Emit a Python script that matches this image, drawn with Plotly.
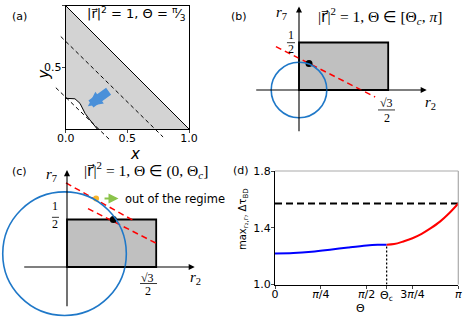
import numpy as np
import plotly.graph_objects as go

# ---------------- data ----------------
# panel (a)
a_curve_x = [0.0, 0.04, 0.075, 0.116, 0.157, 0.197, 0.238, 0.256]
a_curve_y = [0.249, 0.249, 0.245, 0.208, 0.127, 0.073, 0.019, 0.0]
a_diag_x = [0.0, 1.0]
a_diag_y = [1.0, 0.0]
a_dash_hi_x = [-0.04, 0.79]
a_dash_hi_y = [0.75, -0.065]
a_dash_lo_x = [-0.08, 0.36]
a_dash_lo_y = [0.335, -0.09]
a_arrow_tail = [0.36, 0.315]
a_arrow_tip = [0.18, 0.185]

# panels (b), (c): rectangle r2 in [0, sqrt3/2], r7 in [0, 1/2]
rect_w = np.sqrt(3) / 2
rect_h = 0.5
b_circle_center = [0.0, 0.0]
b_circle_r = 0.27
b_red_x = [-0.224, 0.739]
b_red_y = [0.457, -0.074]
b_dot = [0.097, 0.28]

c_circle_center = [-0.024, 0.14]
c_circle_r = 0.6
c_red1_x = [-0.01, 0.66]
c_red1_y = [0.885, 0.48]
c_red2_x = [0.204, 0.866]
c_red2_y = [0.615, 0.25]
c_dot = [0.45, 0.5]
c_orange = [0.282, 0.72]
c_green_from = [0.35, 0.72]
c_green_to = [0.50, 0.72]

# panel (d)
theta_c = 0.609 * np.pi
d_blue_x = [0.0, 0.1 * np.pi, 0.2 * np.pi, 0.3 * np.pi, 0.4 * np.pi, 0.5 * np.pi, 0.56 * np.pi, theta_c]
d_blue_y = [1.219, 1.222, 1.231, 1.245, 1.261, 1.275, 1.280, 1.281]
d_red_x = [theta_c, 0.65 * np.pi, 0.7 * np.pi, 0.75 * np.pi, 0.8 * np.pi, 0.85 * np.pi, 0.9 * np.pi, 0.95 * np.pi, np.pi]
d_red_y = [1.281, 1.285, 1.303, 1.326, 1.357, 1.397, 1.443, 1.502, 1.571]
d_limit = np.pi / 2
d_xticks = [0, np.pi / 4, np.pi / 2, theta_c, 3 * np.pi / 4, np.pi]
d_xticktext = ["0", "<i>π</i>/4", "<i>π</i>/2", " ", "3<i>π</i>/4", "<i>π</i>"]
d_yticks = [1.0, 1.4, 1.8]

# ---------------- layout helpers ----------------
W, H = 463, 317
SX, SY = 103.0, 95.0  # schematic scale px/unit


def xd(p0, p1):
    return [p0 / W, p1 / W]


def yd(top, bottom):
    return [1 - bottom / H, 1 - top / H]


SANS = "DejaVu Sans"
SERIF = "Liberation Serif"
TITLE_FONT = "Liberation Serif, DejaVu Sans"

fig = go.Figure()

# ---- panel (a) ----
poly_x = a_curve_x + [1.0, 0.0, a_curve_x[0]]
poly_y = a_curve_y + [0.0, 1.0, a_curve_y[0]]
fig.add_trace(go.Scatter(x=poly_x, y=poly_y, fill="toself", fillcolor="#d3d3d3",
                         line=dict(width=0), mode="lines", xaxis="x", yaxis="y", hoverinfo="skip"))
fig.add_trace(go.Scatter(x=a_curve_x, y=a_curve_y, mode="lines", line=dict(color="black", width=1),
                         xaxis="x", yaxis="y"))
fig.add_trace(go.Scatter(x=a_diag_x, y=a_diag_y, mode="lines", line=dict(color="black", width=1),
                         xaxis="x", yaxis="y"))

shapes = []
annots = []
for xs, ys in [(a_dash_hi_x, a_dash_hi_y), (a_dash_lo_x, a_dash_lo_y)]:
    shapes.append(dict(type="line", xref="x domain", yref="y domain", x0=xs[0], y0=ys[0], x1=xs[1], y1=ys[1],
                       line=dict(color="black", width=1, dash="4px,3px")))

annots.append(dict(x=a_arrow_tip[0], y=a_arrow_tip[1], ax=a_arrow_tail[0], ay=a_arrow_tail[1],
                   xref="x", yref="y", axref="x", ayref="y", showarrow=True, arrowhead=2,
                   arrowsize=0.34, arrowwidth=8.5, arrowcolor="#4a90d9", text=""))
annots.append(dict(x=0.99, y=0.93, xref="x", yref="y", xanchor="right", yanchor="middle", showarrow=False,
                   text="|r⃗|<sup>2</sup> = 1, Θ = <sup>π</sup>⁄<sub>3</sub>", font=dict(family=SANS, size=13, color="black")))
annots.append(dict(x=128 / W, y=1 - 154 / H, xref="paper", yref="paper", showarrow=False, text="<i>x</i>",
                   font=dict(family=SANS, size=15, color="black")))
annots.append(dict(x=32 / W, y=1 - 67 / H, xref="paper", yref="paper", showarrow=False, text="<i>y</i>",
                   textangle=-90, font=dict(family=SANS, size=15, color="black")))

# ---- panel (b) ----
fig.add_trace(go.Scatter(x=b_red_x, y=b_red_y, mode="lines", line=dict(color="red", width=1.5, dash="6px,4px"),
                         xaxis="x2", yaxis="y2"))
fig.add_trace(go.Scatter(x=[b_dot[0]], y=[b_dot[1]], mode="markers", marker=dict(color="black", size=7),
                         xaxis="x2", yaxis="y2"))

# ---- panel (c) ----
for xs, ys in [(c_red1_x, c_red1_y), (c_red2_x, c_red2_y)]:
    fig.add_trace(go.Scatter(x=xs, y=ys, mode="lines", line=dict(color="red", width=1.5, dash="6px,4px"),
                             xaxis="x3", yaxis="y3"))
fig.add_trace(go.Scatter(x=[c_dot[0]], y=[c_dot[1]], mode="markers", marker=dict(color="black", size=7),
                         xaxis="x3", yaxis="y3"))
fig.add_trace(go.Scatter(x=[c_orange[0]], y=[c_orange[1]], mode="markers", marker=dict(color="#f7b52c", size=6),
                         xaxis="x3", yaxis="y3"))

for ax, ay, cc, rr in [("x2", "y2", b_circle_center, b_circle_r), ("x3", "y3", c_circle_center, c_circle_r)]:
    shapes.append(dict(type="rect", xref=ax, yref=ay, x0=0, y0=0, x1=rect_w, y1=rect_h,
                       fillcolor="#c0c0c0", line=dict(color="black", width=1.8), layer="below"))
    shapes.append(dict(type="circle", xref=ax, yref=ay, x0=cc[0] - rr, x1=cc[0] + rr,
                       y0=cc[1] - rr * SX / SY, y1=cc[1] + rr * SX / SY,
                       line=dict(color="#1f78c8", width=1.6), layer="above"))

# axes arrows
for ax, ay, xl, xr, yb, yt in [("x2", "y2", -0.43, 1.24, -0.45, 0.88), ("x3", "y3", -0.43, 1.24, -0.43, 1.02)]:
    annots.append(dict(x=xr, y=0, ax=xl, ay=0, xref=ax, yref=ay, axref=ax, ayref=ay, showarrow=True,
                       arrowhead=2, arrowsize=1.1, arrowwidth=1.1, arrowcolor="black", text=""))
    annots.append(dict(x=0, y=yt, ax=0, ay=yb, xref=ax, yref=ay, axref=ax, ayref=ay, showarrow=True,
                       arrowhead=2, arrowsize=1.1, arrowwidth=1.1, arrowcolor="black", text=""))

# green arrow (c)
annots.append(dict(x=c_green_to[0], y=c_green_to[1], ax=c_green_from[0], ay=c_green_from[1],
                   xref="x3", yref="y3", axref="x3", ayref="y3", showarrow=True, arrowhead=2, arrowsize=1,
                   arrowwidth=2, arrowcolor="#8bc34a", text=""))
annots.append(dict(x=0.545, y=0.72, xref="x3", yref="y3", xanchor="left", showarrow=False,
                   text="out of the regime", font=dict(family=SANS, size=11.5, color="black")))

serif = dict(family=SERIF, size=12, color="black")
# panel (b) labels
annots += [
    dict(x=0.79, y=0.775, xref="x2", yref="y2", showarrow=False,
         text="|r⃗|<sup>2</sup> = 1, Θ ∈ [Θ<sub><i>c</i></sub>, <i>π</i>]",
         font=dict(family=TITLE_FONT, size=15.5, color="black")),
    dict(x=-0.17, y=0.81, xref="x2", yref="y2", showarrow=False, text="<i>r</i><sub>7</sub>",
         font=dict(family=SERIF, size=15, color="black")),
    dict(x=1.28, y=-0.14, xref="x2", yref="y2", showarrow=False, text="<i>r</i><sub>2</sub>",
         font=dict(family=SERIF, size=15, color="black")),
    dict(x=-0.078, y=0.574, xref="x2", yref="y2", showarrow=False, text="1", font=serif),
    dict(x=-0.078, y=0.432, xref="x2", yref="y2", showarrow=False, text="2", font=serif),
    dict(x=0.851, y=-0.142, xref="x2", yref="y2", showarrow=False, text="√3", font=serif),
    dict(x=0.851, y=-0.29, xref="x2", yref="y2", showarrow=False, text="2", font=serif),
]
shapes += [
    dict(type="line", xref="x2", yref="y2", x0=-0.117, x1=-0.039, y0=0.498, y1=0.498, line=dict(color="black", width=0.8)),
    dict(type="line", xref="x2", yref="y2", x0=0.767, x1=0.932, y0=-0.21, y1=-0.21, line=dict(color="black", width=0.8)),
]
# panel (c) labels
annots += [
    dict(x=0.77, y=1.02, xref="x3", yref="y3", showarrow=False,
         text="|r⃗|<sup>2</sup> = 1, Θ ∈ (0, Θ<sub><i>c</i></sub>]",
         font=dict(family=TITLE_FONT, size=15.5, color="black")),
    dict(x=-0.15, y=0.97, xref="x3", yref="y3", showarrow=False, text="<i>r</i><sub>7</sub>",
         font=dict(family=SERIF, size=15, color="black")),
    dict(x=1.25, y=-0.12, xref="x3", yref="y3", showarrow=False, text="<i>r</i><sub>2</sub>",
         font=dict(family=SERIF, size=15, color="black")),
    dict(x=-0.112, y=0.637, xref="x3", yref="y3", showarrow=False, text="1", font=serif),
    dict(x=-0.112, y=0.453, xref="x3", yref="y3", showarrow=False, text="2", font=serif),
    dict(x=0.786, y=-0.116, xref="x3", yref="y3", showarrow=False, text="√3", font=serif),
    dict(x=0.786, y=-0.253, xref="x3", yref="y3", showarrow=False, text="2", font=serif),
]
shapes += [
    dict(type="line", xref="x3", yref="y3", x0=-0.146, x1=-0.078, y0=0.523, y1=0.523, line=dict(color="black", width=0.8)),
    dict(type="line", xref="x3", yref="y3", x0=0.709, x1=0.874, y0=-0.174, y1=-0.174, line=dict(color="black", width=0.8)),
]

# ---- panel (d) ----
fig.add_trace(go.Scatter(x=[0, np.pi], y=[d_limit, d_limit], mode="lines",
                         line=dict(color="black", width=2, dash="7px,4px"), xaxis="x4", yaxis="y4"))
fig.add_trace(go.Scatter(x=[theta_c, theta_c], y=[1.0, d_red_y[0]], mode="lines",
                         line=dict(color="black", width=1.3, dash="2px,2px"), xaxis="x4", yaxis="y4"))
fig.add_trace(go.Scatter(x=d_blue_x, y=d_blue_y, mode="lines", line=dict(color="blue", width=2, shape="spline"),
                         xaxis="x4", yaxis="y4"))
fig.add_trace(go.Scatter(x=d_red_x, y=d_red_y, mode="lines", line=dict(color="red", width=2, shape="spline"),
                         xaxis="x4", yaxis="y4"))
shapes += [
    dict(type="line", xref="x4 domain", yref="y4 domain", x0=0, x1=1, y0=1, y1=1, line=dict(color="#aaaaaa", width=1.2)),
    dict(type="line", xref="x4 domain", yref="y4 domain", x0=1, x1=1, y0=0, y1=1, line=dict(color="#aaaaaa", width=1.2)),
]
annots += [
    dict(x=theta_c, y=1 - 287 / H, xref="x4", yref="paper", yanchor="top", showarrow=False, text="Θ<sub>c</sub>",
         font=dict(family=SANS, size=11, color="black")),
    dict(x=367 / W, y=1 - 300 / H, xref="paper", yref="paper", yanchor="top", showarrow=False, text="Θ",
         font=dict(family=SANS, size=11, color="black")),
    dict(x=243 / W, y=1 - 252 / H, xref="paper", yref="paper", showarrow=False, textangle=-90,
         text="max<sub>r₂,r₇</sub> Δτ<sub>BD</sub>", font=dict(family=SANS, size=10, color="black")),
]

# panel letters
for t, px, py in [("(a)", 10, 8), ("(b)", 239, 8), ("(c)", 10, 171), ("(d)", 241, 170)]:
    annots.append(dict(x=px / W, y=1 - py / H, xref="paper", yref="paper", showarrow=False, text=t,
                       font=dict(family=SANS, size=11, color="black")))

tickfont = dict(family=SANS, size=11, color="black")
hidden = dict(visible=False, showgrid=False, zeroline=False)

fig.update_layout(
    width=W, height=H, margin=dict(l=0, r=0, t=0, b=0, pad=0, autoexpand=False),
    paper_bgcolor="white", plot_bgcolor="rgba(0,0,0,0)", showlegend=False,
    xaxis=dict(domain=xd(65.7, 189), range=[0, 1], tickvals=[0, 0.5, 1.0], ticktext=["0.0", "0.5", "1.0"],
               ticks="outside", ticklen=3, showline=True, mirror=True, linecolor="black", linewidth=1,
               showgrid=False, zeroline=False, tickfont=tickfont, anchor="y", automargin=False,
               ticklabelstandoff=-4),
    yaxis=dict(domain=yd(5.7, 129), range=[0, 1], tickvals=[0.5, 1.0], ticktext=["0.5", "1.0"],
               ticks="outside", ticklen=3, showline=True, mirror=True, linecolor="black", linewidth=1,
               showgrid=False, zeroline=False, tickfont=tickfont, anchor="x", automargin=False,
               ticklabelstandoff=-2),
    xaxis2=dict(domain=xd(240, 463), range=[(240 - 299) / SX, (463 - 299) / SX], anchor="y2", **hidden),
    yaxis2=dict(domain=yd(0, 150), range=[(90 - 150) / SY, (90 - 0) / SY], anchor="x2", **hidden),
    xaxis3=dict(domain=xd(0, 240), range=[(0 - 67) / SX, (240 - 67) / SX], anchor="y3", **hidden),
    yaxis3=dict(domain=yd(158, 317), range=[(267 - 317) / SY, (267 - 158) / SY], anchor="x3", **hidden),
    xaxis4=dict(domain=xd(275, 458.3), range=[0, np.pi], tickvals=d_xticks, ticktext=d_xticktext,
                ticks="outside", ticklen=3, showline=True, linecolor="black", linewidth=1,
                showgrid=False, zeroline=False, tickfont=tickfont, anchor="y4", automargin=False,
                ticklabelstandoff=-4),
    yaxis4=dict(domain=yd(171, 284.5), range=[1.0, 1.8], tickvals=d_yticks, ticktext=["1.0", "1.4", "1.8"],
                ticks="outside", ticklen=3, showline=True, linecolor="black", linewidth=1,
                showgrid=False, zeroline=False, tickfont=tickfont, anchor="x4", automargin=False,
                ticklabelstandoff=-2),
    shapes=shapes, annotations=annots,
)

fig.write_html("out.html", config={"displayModeBar": False},
               post_script="document.body.style.margin='0';document.body.style.padding='0';")
